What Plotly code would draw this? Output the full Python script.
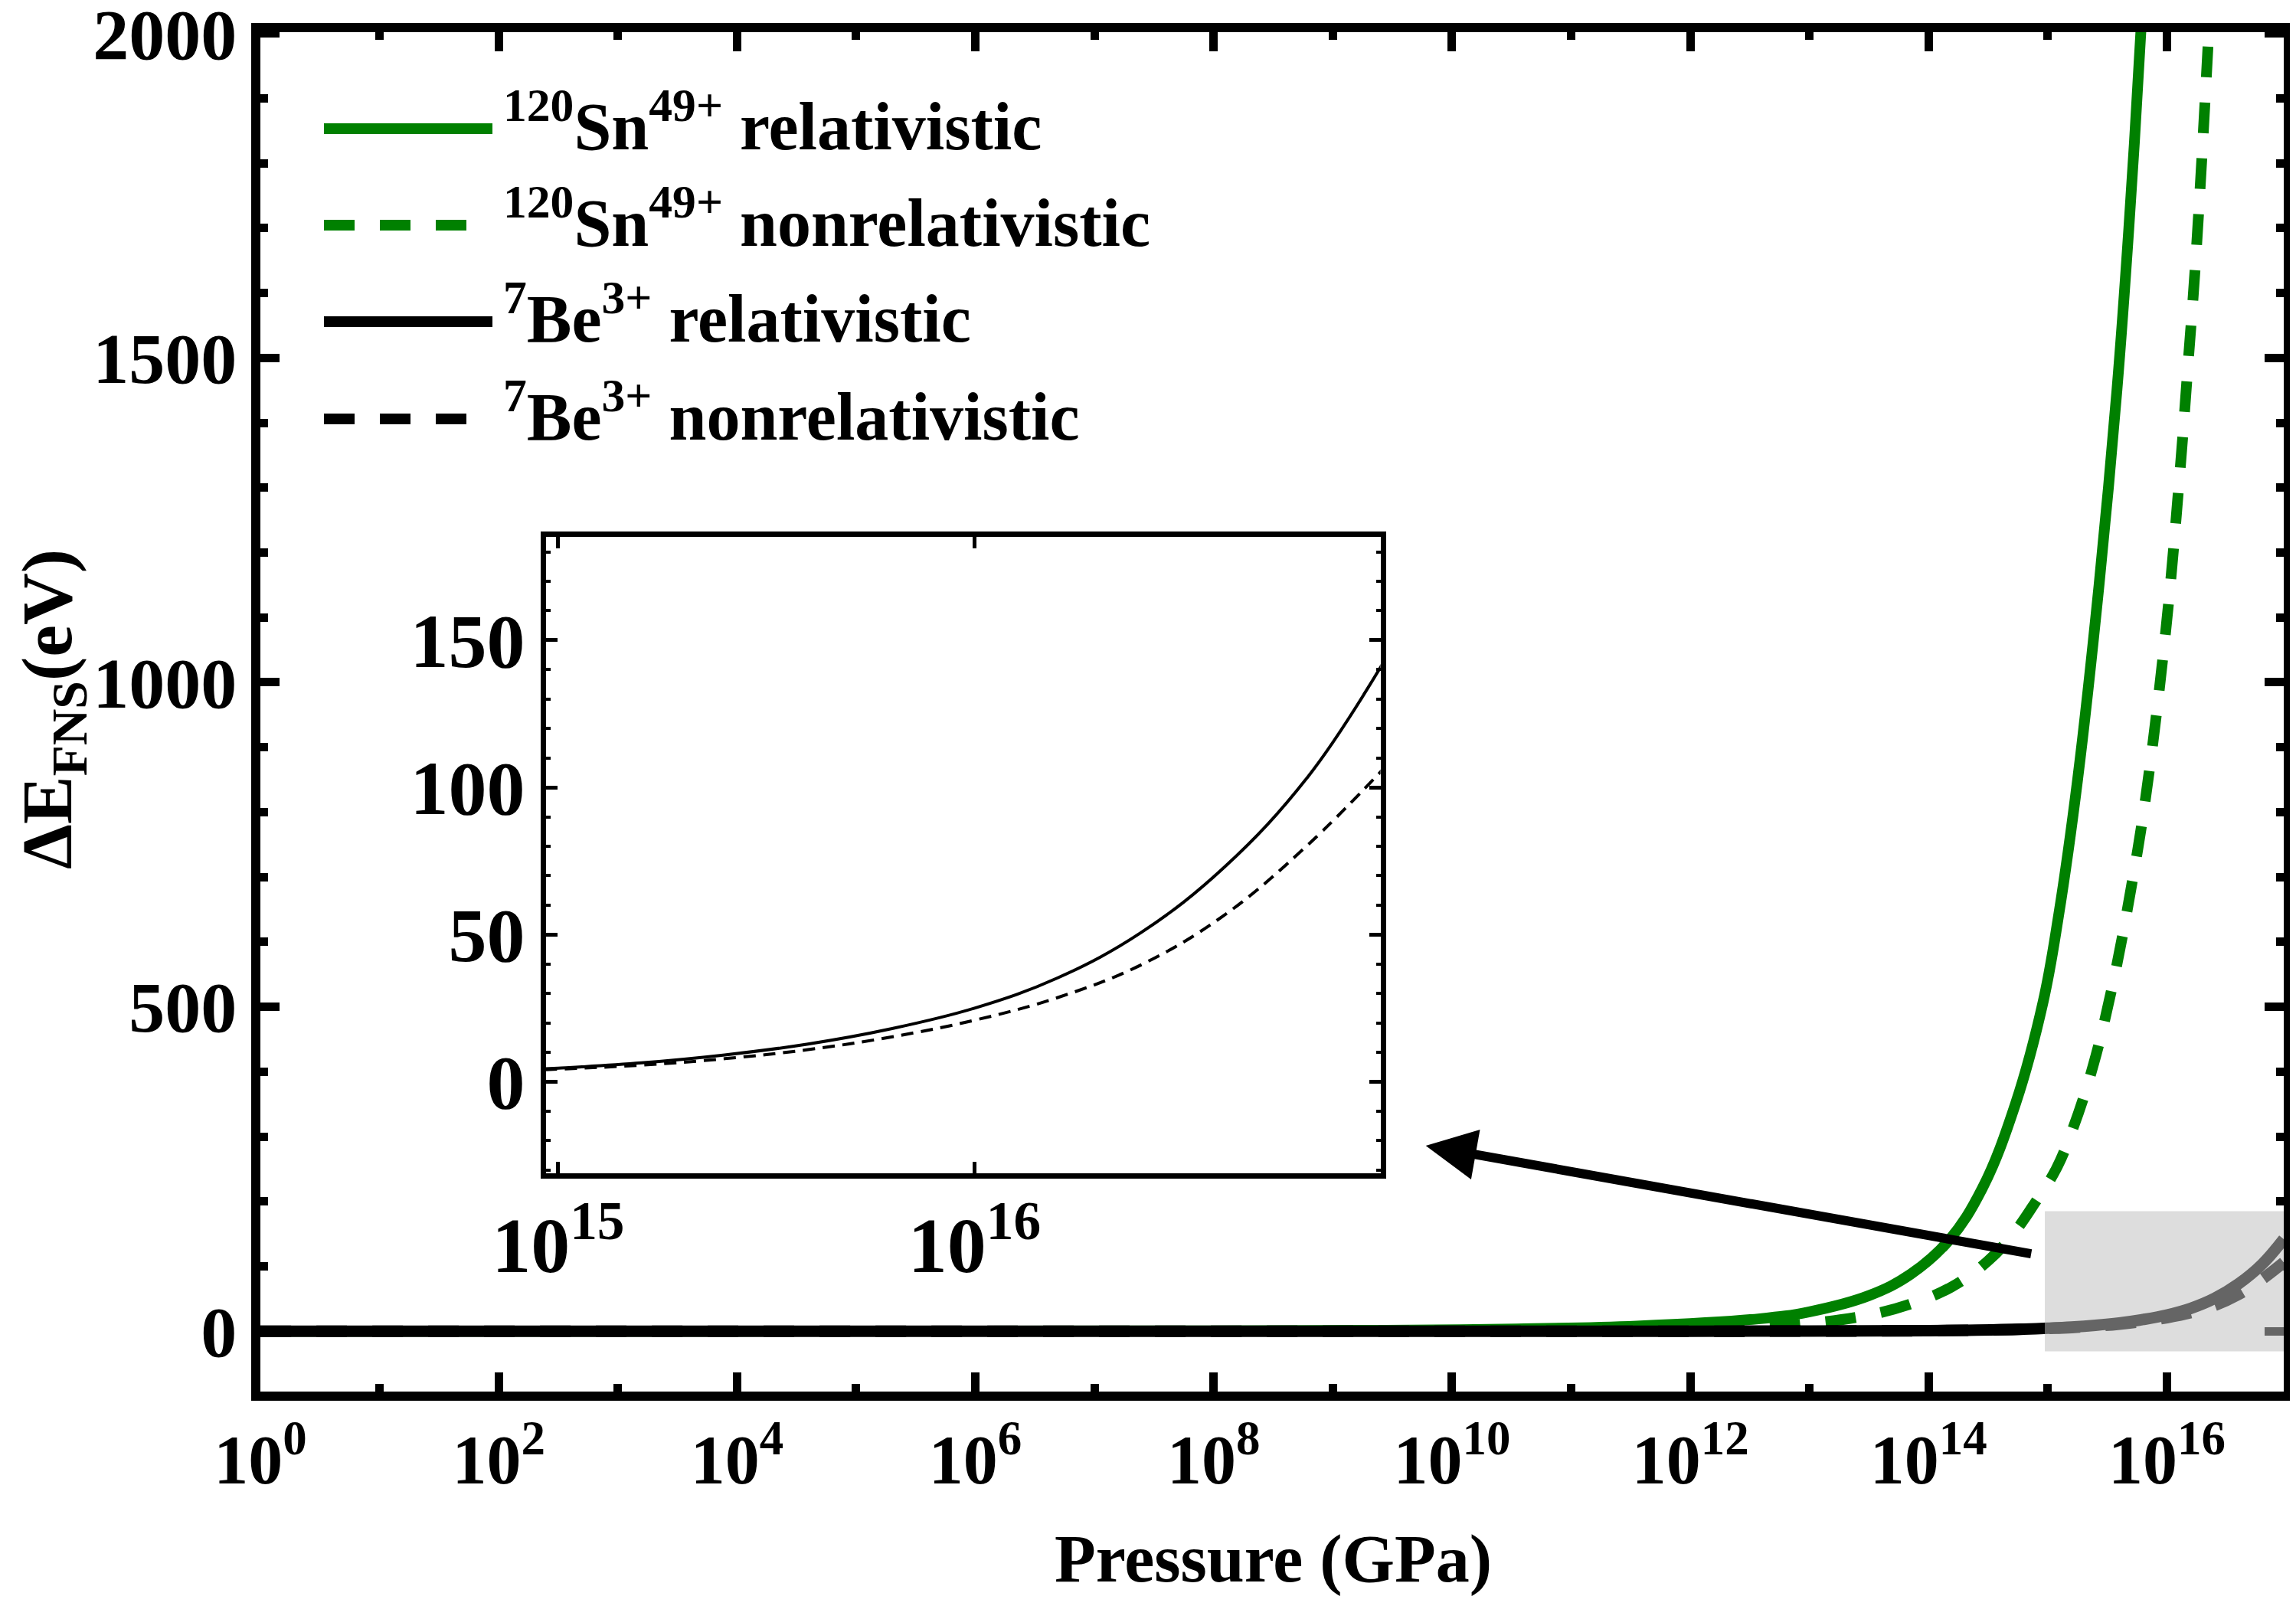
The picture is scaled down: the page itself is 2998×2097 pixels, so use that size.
import numpy as np
import plotly.graph_objects as go

# ---------------- data ----------------
# x values are log10(Pressure / GPa)
sn_rel_logp = [0, 4, 8, 9.43, 10.54, 11.55, 12.57, 13.0, 13.5, 13.85, 14.17, 14.45,
               14.73, 14.96, 15.09, 15.25, 15.43, 15.58, 15.68, 15.78, 15.86]
sn_rel_dE = [0, 0.05, 0.6, 1.5, 3.5, 8, 19, 30, 55, 88, 140, 220,
             351, 507, 640, 850, 1150, 1450, 1700, 2000, 2300]

sn_nonrel_logp = [0, 8, 10, 11, 12, 12.5, 13.0, 13.5, 13.85, 14.19, 14.49, 14.71, 14.90,
                  15.07, 15.21, 15.38, 15.55, 15.70, 15.82, 15.99, 16.11, 16.18, 16.24,
                  16.35, 16.43]
sn_nonrel_dE = [0, 0, 0.3, 1, 3, 6, 12, 25, 42, 68, 107, 150, 200,
                250, 312, 409, 539, 684, 821, 1080, 1327, 1498, 1648,
                2000, 2300]

be_logp = [0, 8, 10, 12, 13, 14, 14.4, 14.6, 14.8, 15.0, 15.2, 15.4, 15.6, 15.8,
           16.0, 16.2, 16.4, 16.6, 16.8, 16.98]
be_rel_dE = [0, 0.001, 0.01, 0.06, 0.25, 0.9, 1.65, 2.3, 3.25, 4.6, 6.4, 9.1, 12.8, 18.0,
             25.0, 35.3, 50.7, 72.9, 103.5, 142.0]
be_nonrel_dE = [0, 0.001, 0.01, 0.05, 0.22, 0.8, 1.6, 2.2, 3.1, 4.27, 5.64, 7.83, 10.9, 15.2,
                20.9, 28.6, 39.7, 56.6, 80.4, 106.0]

x_major_exp = [0, 2, 4, 6, 8, 10, 12, 14, 16]
x_minor_exp = [1, 3, 5, 7, 9, 11, 13, 15]
y_major = [0, 500, 1000, 1500, 2000]
inset_x_exp = [15, 16]
inset_y_major = [0, 50, 100, 150]

legend_labels = [
    "<sup>120</sup>Sn<sup>49+</sup> relativistic",
    "<sup>120</sup>Sn<sup>49+</sup> nonrelativistic",
    "<sup>7</sup>Be<sup>3+</sup> relativistic",
    "<sup>7</sup>Be<sup>3+</sup> nonrelativistic",
]
x_title = "Pressure (GPa)"
y_title = "ΔE<sub>FNS</sub>(eV)"

# ---------------- style ----------------
GREEN = "#008000"
FONT = "Liberation Serif"
OFF_X, OFF_Y = 8, 8          # page (body) offset of the figure
W, H = 2998 - 2 * OFF_X, 2097 - 2 * OFF_Y
ML, MR, MT, MB = 332, 8, 34, 272
SM = 1.1


def to_p(lp):
    return np.power(10.0, np.array(lp, dtype=float))


def tf(size):
    return dict(family=FONT, size=size, color="black", weight="bold")


fig = go.Figure()

# main panel
fig.add_trace(go.Scatter(x=to_p(sn_rel_logp), y=sn_rel_dE, mode="lines",
                         line=dict(color=GREEN, width=14, shape="spline", smoothing=SM),
                         name=legend_labels[0], showlegend=False))
fig.add_trace(go.Scatter(x=to_p(sn_nonrel_logp), y=sn_nonrel_dE, mode="lines",
                         line=dict(color=GREEN, width=14, dash="40px,33px", shape="spline", smoothing=SM),
                         name=legend_labels[1], showlegend=False))
fig.add_trace(go.Scatter(x=to_p(be_logp), y=be_rel_dE, mode="lines",
                         line=dict(color="black", width=15, shape="spline", smoothing=SM),
                         name=legend_labels[2], showlegend=False))
fig.add_trace(go.Scatter(x=to_p(be_logp), y=be_nonrel_dE, mode="lines",
                         line=dict(color="black", width=15, dash="40px,33px", shape="spline", smoothing=SM),
                         name=legend_labels[3], showlegend=False))

# inset panel
fig.add_trace(go.Scatter(x=to_p(be_logp), y=be_rel_dE, mode="lines", xaxis="x2", yaxis="y2",
                         line=dict(color="black", width=4, shape="spline", smoothing=SM),
                         showlegend=False))
fig.add_trace(go.Scatter(x=to_p(be_logp), y=be_nonrel_dE, mode="lines", xaxis="x2", yaxis="y2",
                         line=dict(color="black", width=4, dash="16px,10px", shape="spline", smoothing=SM),
                         showlegend=False))

fig.update_layout(
    width=W, height=H,
    margin=dict(l=ML, r=MR, t=MT, b=MB, pad=0, autoexpand=False),
    plot_bgcolor="white", paper_bgcolor="white",
    font=tf(88),
    showlegend=False,
    xaxis=dict(
        type="log", range=[0, 16.98], domain=[0, 1], anchor="y", automargin=False,
        tickmode="array", tickvals=[10.0 ** e for e in x_major_exp],
        ticktext=[f"10<sup>{e}</sup>" for e in x_major_exp],
        ticks="inside", ticklen=25, tickwidth=11, tickcolor="black",
        minor=dict(tickmode="array", tickvals=[10.0 ** e for e in x_minor_exp],
                   ticks="inside", ticklen=10, tickwidth=11, tickcolor="black"),
        showline=True, linewidth=12, linecolor="black", mirror="ticks",
        showgrid=False, zeroline=False, tickfont=tf(90), ticklabeloverflow="allow",
    ),
    yaxis=dict(
        range=[-93, 2002], domain=[0, 1], anchor="x", automargin=False,
        tickmode="array", tickvals=y_major, ticktext=[str(v) for v in y_major],
        ticks="inside", ticklen=25, tickwidth=11, tickcolor="black",
        minor=dict(dtick=100, tick0=0, ticks="inside", ticklen=10, tickwidth=11, tickcolor="black"),
        showline=True, linewidth=12, linecolor="black", mirror="ticks",
        showgrid=False, zeroline=False, tickfont=tf(94), ticklabeloverflow="allow",
    ),
    xaxis2=dict(
        type="log", range=[14.97, 16.975], domain=[0.141, 0.5536], anchor="y2", automargin=False,
        tickmode="array", tickvals=[10.0 ** e for e in inset_x_exp],
        ticktext=[f"10<sup>{e}</sup>" for e in inset_x_exp],
        ticks="inside", ticklen=15, tickwidth=5, tickcolor="black",
        showline=True, linewidth=7, linecolor="black", mirror="ticks",
        showgrid=False, zeroline=False, tickfont=tf(102),
    ),
    yaxis2=dict(
        range=[-31, 185], domain=[0.1608, 0.6285], anchor="x2", automargin=False,
        tickmode="array", tickvals=inset_y_major, ticktext=[str(v) for v in inset_y_major],
        ticks="inside", ticklen=15, tickwidth=5, tickcolor="black",
        minor=dict(dtick=10, tick0=0, ticks="inside", ticklen=6, tickwidth=4, tickcolor="black"),
        showline=True, linewidth=7, linecolor="black", mirror="ticks",
        showgrid=False, zeroline=False, tickfont=tf(100),
    ),
)

# highlighted zoom region on the main panel
fig.add_shape(type="rect", xref="x", yref="y",
              x0=10 ** 14.975, x1=10 ** 16.98, y0=-31, y1=185,
              fillcolor="rgba(191,191,191,0.53)", line=dict(width=0), layer="above")

# arrow from zoom region to inset
fig.add_annotation(x=9.78, y=286, xref="x", yref="y",
                   ax=14.87, ay=119, axref="x", ayref="y",
                   text="", showarrow=True, arrowhead=2, arrowsize=1.1,
                   arrowwidth=12, arrowcolor="black")


# positions below are given in reference-image pixels
def px_to_paper_x(X):
    return (X - OFF_X - ML) / (W - ML - MR)


def px_to_paper_y(Y):
    return (H - MB - (Y - OFF_Y)) / (H - MT - MB)


# axis titles
fig.add_annotation(x=px_to_paper_x(1662), y=px_to_paper_y(2086), xref="paper", yref="paper",
                   text=x_title, showarrow=False, xanchor="center", yanchor="bottom",
                   font=tf(88))
fig.add_annotation(x=px_to_paper_x(68), y=px_to_paper_y(926), xref="paper", yref="paper",
                   text=y_title, showarrow=False, xanchor="center", yanchor="middle",
                   textangle=-90, font=tf(94))

# custom legend (long line keys)
legend_rows_y = [168, 294, 420, 547]
legend_styles = [(GREEN, "solid"), (GREEN, "40px,33px"), ("black", "solid"), ("black", "40px,33px")]
for yy, (col, dsh), lab in zip(legend_rows_y, legend_styles, legend_labels):
    x_end = 643 if dsh == "solid" else 610
    fig.add_shape(type="line", xref="paper", yref="paper",
                  x0=px_to_paper_x(423), x1=px_to_paper_x(x_end),
                  y0=px_to_paper_y(yy), y1=px_to_paper_y(yy),
                  line=dict(color=col, width=14, dash=dsh))
    fig.add_annotation(x=px_to_paper_x(655), y=px_to_paper_y(yy), xref="paper", yref="paper",
                       text=lab, showarrow=False, xanchor="left", yanchor="middle", yshift=10,
                       font=tf(88))

fig.write_html("out.html")
